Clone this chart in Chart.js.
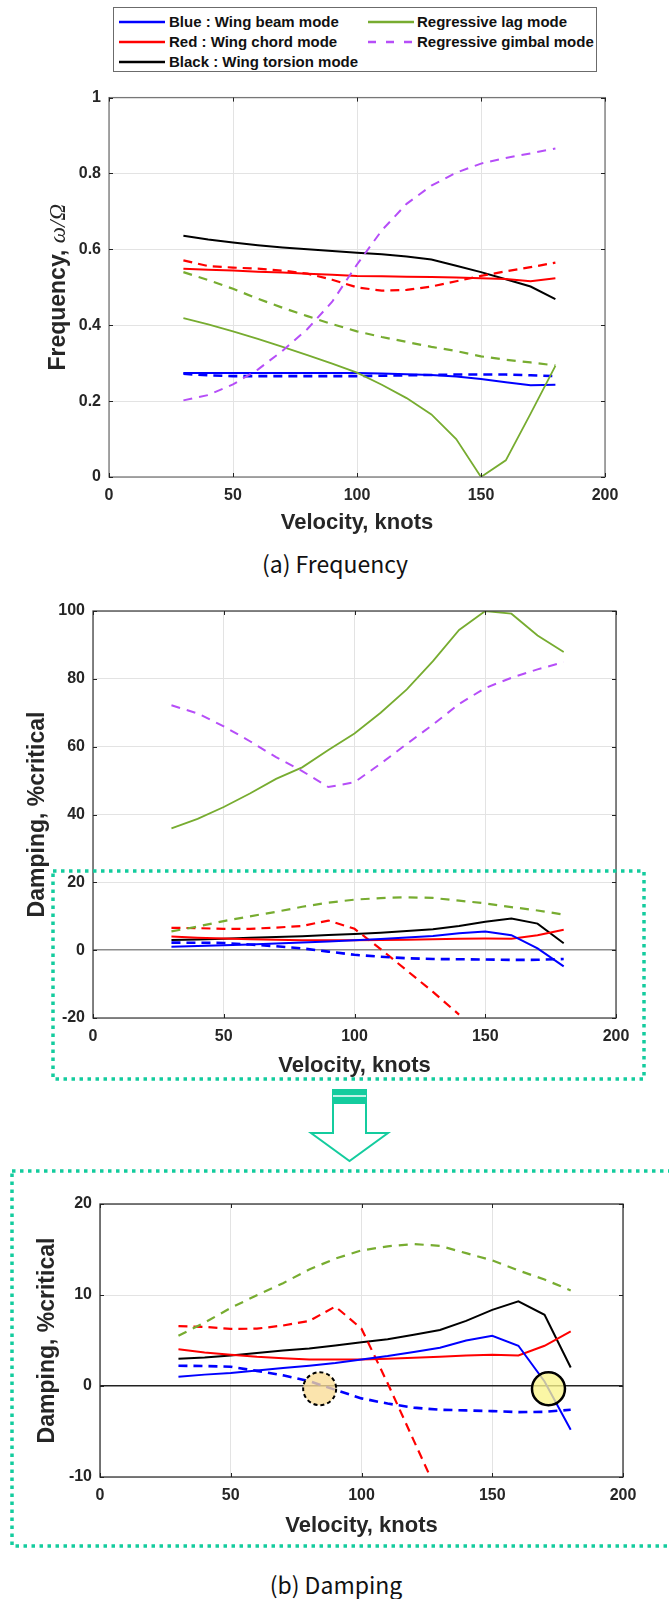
<!DOCTYPE html>
<html><head><meta charset="utf-8">
<script src="https://cdn.jsdelivr.net/npm/chart.js@4.4.0/dist/chart.umd.min.js"></script>
<style>
html,body{margin:0;padding:0;background:#fff;}
body{width:669px;height:1599px;position:relative;overflow:hidden;font-family:'Liberation Sans',Arial,sans-serif;}
canvas.c{position:absolute;left:0;}
#legend{position:absolute;left:113px;top:7px;width:484px;height:65px;border:1px solid #6b6b6b;box-sizing:border-box;}
.li{position:absolute;font:bold 15px 'Liberation Sans',Arial,sans-serif;color:#111;white-space:nowrap;line-height:18px;}
.cap{position:absolute;font:23px 'Noto Sans CJK KR','Noto Sans',sans-serif;color:#111;transform:translate(-50%,-50%);white-space:nowrap;}
svg.ov{position:absolute;left:0;top:0;pointer-events:none;}
</style></head><body>
<div id="legend"></div>
<canvas class="c" id="c1" width="669" height="465" style="top:80px"></canvas>
<div class="cap" style="left:335px;top:563px">(a) Frequency</div>
<canvas class="c" id="c2" width="669" height="495" style="top:590px"></canvas>
<canvas class="c" id="c3" width="669" height="380" style="top:1180px"></canvas>
<div class="cap" style="left:336px;top:1584px">(b) Damping</div>
<svg class="ov" width="669" height="1599">
  <rect x="53" y="871" width="591" height="208" fill="none" stroke="#14CC9E" stroke-width="3.5" stroke-dasharray="3.5 4.5"/>
  <rect x="12" y="1171" width="700" height="375" fill="none" stroke="#14CC9E" stroke-width="3.5" stroke-dasharray="3.5 4.5"/>
  <polygon points="333,1090 366,1090 366,1133 388,1133 349.5,1161 311,1133 333,1133" fill="#fff" stroke="#14CC9E" stroke-width="2"/>
  <rect x="333" y="1090" width="33" height="14" fill="#14CC9E"/>
  <line x1="333" x2="366" y1="1096" y2="1096" stroke="#fff" stroke-width="1.3"/>
</svg>
<script>
// ---------- data ----------
const velocity = [30,40,50,60,70,80,90,100,110,120,130,140,150,160,170,180];

const velTicks  = [0,50,100,150,200];
const freqTicks = [0,0.2,0.4,0.6,0.8,1];
const dampTicks = [-20,0,20,40,60,80,100];
const zoomTicks = [-10,0,10,20];

// Frequency, omega/Omega
const freqBeam       = [0.274,0.274,0.274,0.274,0.274,0.274,0.274,0.274,0.273,0.271,0.269,0.265,0.258,0.250,0.242,0.243];
const freqBeamB      = [0.272,0.268,0.266,0.266,0.266,0.266,0.266,0.266,0.267,0.268,0.269,0.270,0.270,0.270,0.268,0.266];
const freqChord      = [0.549,0.546,0.544,0.541,0.539,0.536,0.533,0.530,0.529,0.528,0.527,0.526,0.524,0.522,0.516,0.524];
const freqChordB     = [0.571,0.556,0.552,0.549,0.544,0.536,0.520,0.500,0.491,0.493,0.502,0.516,0.530,0.542,0.553,0.565];
const freqTorsion    = [0.636,0.626,0.618,0.611,0.605,0.600,0.596,0.591,0.587,0.581,0.573,0.557,0.540,0.521,0.502,0.469];
const freqLag        = [0.419,0.402,0.384,0.364,0.343,0.321,0.299,0.275,0.243,0.208,0.165,0.100,0.000,0.044,0.167,0.293];
const freqLagB       = [0.540,0.519,0.496,0.470,0.446,0.424,0.403,0.384,0.369,0.356,0.343,0.332,0.318,0.309,0.302,0.294];
const freqGimbal     = [0.202,0.216,0.244,0.283,0.333,0.390,0.462,0.560,0.650,0.720,0.768,0.802,0.826,0.841,0.853,0.866];

// Damping, %critical
const dampBeam       = [1.02,1.25,1.44,1.70,1.97,2.23,2.53,2.91,3.29,3.74,4.20,4.99,5.52,4.42,0.50,-4.80];
const dampBeamB      = [2.23,2.19,2.12,1.66,1.17,0.53,-0.42,-1.36,-1.93,-2.38,-2.61,-2.68,-2.76,-2.87,-2.84,-2.61];
const dampChord      = [4.05,3.67,3.44,3.21,3.06,2.91,2.91,2.91,2.99,3.10,3.21,3.36,3.44,3.36,4.42,6.01];
const dampChordB     = [6.58,6.50,6.28,6.30,6.65,7.15,8.73,6.30,0.30,-6.00,-12.30,-19.00,null,null,null,null];
const dampTorsion    = [2.99,3.14,3.36,3.63,3.90,4.12,4.46,4.80,5.14,5.63,6.16,7.15,8.36,9.30,7.83,2.04];
const dampLag        = [35.9,38.7,42.2,46.2,50.5,53.9,59.0,63.9,70.0,76.9,85.2,94.4,100.0,99.2,92.8,87.9];
const dampLagB       = [5.52,6.96,8.58,9.98,11.3,12.8,14.0,14.9,15.35,15.6,15.4,14.6,13.8,12.7,11.7,10.5];
const dampGimbal     = [72.2,69.8,66.0,61.6,56.9,52.8,48.1,49.5,55.0,60.8,66.5,72.6,77.3,80.3,82.8,84.9];

// highlighted crossings (panel b, zoom)
const markVel  = [84, 171.5];
const markDamp = [-0.3, -0.3];

const legendLabels = ['Blue : Wing beam mode','Red : Wing chord mode','Black : Wing torsion mode','Regressive lag mode','Regressive gimbal mode'];

// ---------- styles ----------
const BLUE='#0000FF', RED='#FF0000', BLACK='#000000', GREEN='#77AC30', PURPLE='#B64EF8';
const DASH=[9,6];
function pts(ys){ return velocity.map((v,i)=>({x:v,y:ys[i]})); }
function ds(ys,color,w,dash){ return {data:pts(ys),borderColor:color,borderWidth:w,borderDash:dash||[],pointRadius:0,tension:0,fill:false,spanGaps:false}; }

function setsFreq(){ return [
  ds(freqGimbal,PURPLE,2,[9,7]),
  ds(freqLagB,GREEN,2.2,[9,7]),
  ds(freqLag,GREEN,1.8),
  ds(freqBeamB,BLUE,2.6,DASH),
  ds(freqBeam,BLUE,2),
  ds(freqChordB,RED,2.2,DASH),
  ds(freqChord,RED,2),
  ds(freqTorsion,BLACK,2)
];}
function setsDamp(){ return [
  ds(dampGimbal,PURPLE,2,[9,7]),
  ds(dampLagB,GREEN,2.2,[9,7]),
  ds(dampLag,GREEN,1.8),
  ds(dampBeamB,BLUE,2.6,DASH),
  ds(dampBeam,BLUE,2),
  ds(dampChordB,RED,2.2,DASH),
  ds(dampChord,RED,2),
  ds(dampTorsion,BLACK,2)
];}

// legend (html)
(function(){
  const lg=document.getElementById('legend');
  const cols=[BLUE,RED,BLACK,GREEN,PURPLE];
  const dashes=[null,null,null,null,'8 10'];
  const pos=[[5,55,14],[5,55,34],[5,55,54],[254,303,14],[254,303,34]];
  legendLabels.forEach((t,i)=>{
    const p=pos[i];
    const s=document.createElementNS('http://www.w3.org/2000/svg','svg');
    s.setAttribute('width','46');s.setAttribute('height','6');
    s.style.position='absolute';s.style.left=p[0]+'px';s.style.top=(p[2]-3)+'px';
    const l=document.createElementNS('http://www.w3.org/2000/svg','line');
    l.setAttribute('x1','0');l.setAttribute('x2','46');l.setAttribute('y1','3');l.setAttribute('y2','3');
    l.setAttribute('stroke',cols[i]);l.setAttribute('stroke-width','2.4');
    if(dashes[i]) l.setAttribute('stroke-dasharray',dashes[i]);
    s.appendChild(l);lg.appendChild(s);
    const d=document.createElement('div');d.className='li';d.textContent=t;
    d.style.left=p[1]+'px';d.style.top=(p[2]-9)+'px';lg.appendChild(d);
  });
})();

// ---------- plugins ----------
const boxPlugin={id:'box',afterDraw(chart,args,o){
  const {ctx,chartArea:a,scales:{x,y}}=chart;
  ctx.save();
  ctx.strokeStyle=o.color||'#555';ctx.lineWidth=1.3;
  ctx.strokeRect(a.left,a.top,a.right-a.left,a.bottom-a.top);
  ctx.strokeStyle='#222';ctx.lineWidth=1;
  const L=4;
  x.ticks.forEach(t=>{const px=Math.round(x.getPixelForValue(t.value))+0.5;
    ctx.beginPath();ctx.moveTo(px,a.bottom);ctx.lineTo(px,a.bottom-L);ctx.moveTo(px,a.top);ctx.lineTo(px,a.top+L);ctx.stroke();});
  y.ticks.forEach(t=>{const py=Math.round(y.getPixelForValue(t.value))+0.5;
    ctx.beginPath();ctx.moveTo(a.left,py);ctx.lineTo(a.left+L,py);ctx.moveTo(a.right,py);ctx.lineTo(a.right-L,py);ctx.stroke();});
  ctx.restore();
}};
// mixed-font y title for the frequency panel
const freqTitlePlugin={id:'ftitle',afterDraw(chart){
  const {ctx,chartArea:a}=chart;
  const p1='Frequency, ', p2='ω/Ω';
  const f1="bold 23px 'Liberation Sans', Arial, sans-serif";
  const f2="italic 23px 'Liberation Serif', 'Times New Roman', serif";
  ctx.save();
  ctx.font=f1; const w1=ctx.measureText(p1).width;
  ctx.font=f2; const w2=ctx.measureText(p2).width;
  ctx.translate(59,(a.top+a.bottom)/2); ctx.rotate(-Math.PI/2);
  ctx.textBaseline='middle'; ctx.textAlign='left'; ctx.fillStyle='#262626';
  const x0=-(w1+w2)/2;
  ctx.font=f1; ctx.fillText(p1,x0,0);
  ctx.font=f2; ctx.fillText(p2,x0+w1,0);
  ctx.restore();
}};
const markPlugin={id:'marks',afterDatasetsDraw(chart){
  const {ctx,scales:{x,y}}=chart;
  ctx.save();
  markVel.forEach((v,i)=>{
    const px=x.getPixelForValue(v), py=y.getPixelForValue(markDamp[i]);
    ctx.beginPath();ctx.ellipse(px,py,16.5,16.5,0,0,Math.PI*2);
    if(i===0){ctx.fillStyle='rgba(250,220,150,0.78)';ctx.setLineDash([4,3]);ctx.lineWidth=2;}
    else {ctx.fillStyle='rgba(250,245,140,0.78)';ctx.setLineDash([]);ctx.lineWidth=2.5;}
    ctx.fill();ctx.strokeStyle='#000';ctx.stroke();
  });
  ctx.restore();
}};

const TICKFONT={family:"'Liberation Sans', Arial, sans-serif",size:16,weight:'bold'};
const XTFONT={family:"'Liberation Sans', Arial, sans-serif",size:22,weight:'bold'};
const YTFONT={family:"'Liberation Sans', Arial, sans-serif",size:23,weight:'bold'};

function makeChart(id,datasets,yTicks,ymin,ymax,ytitle,geo,zeroColor,extraPlugins,boxColor){
  return new Chart(document.getElementById(id),{
    type:'line',
    data:{datasets},
    options:{
      responsive:false,animation:false,devicePixelRatio:1,
      layout:{padding:geo.pad},
      plugins:{legend:{display:false},tooltip:{enabled:false},box:{color:boxColor}},
      scales:{
        x:{type:'linear',min:0,max:200,
          afterBuildTicks:s=>{s.ticks=velTicks.map(v=>({value:v}));},
          afterFit:s=>{s.height=geo.xh;},
          grid:{color:'#e3e3e3',drawTicks:false},border:{display:false},
          ticks:{font:TICKFONT,color:'#262626',padding:9,maxRotation:0,callback:v=>String(v)},
          title:{display:true,text:'Velocity, knots',font:XTFONT,color:'#262626',padding:0}},
        y:{type:'linear',min:ymin,max:ymax,
          afterBuildTicks:s=>{s.ticks=yTicks.map(v=>({value:v}));},
          afterFit:s=>{s.width=geo.yw;},
          grid:{color:c=>(c.tick&&c.tick.value===0&&zeroColor)?zeroColor:'#e3e3e3',lineWidth:c=>(c.tick&&c.tick.value===0&&zeroColor)?1.4:1,drawTicks:false},border:{display:false},
          ticks:{font:TICKFONT,color:'#262626',padding:8,callback:v=>String(+Number(v).toFixed(3))},
          title:{display:!!ytitle,text:ytitle||'',font:YTFONT,color:'#262626',padding:0}}
      }
    },
    plugins:[boxPlugin].concat(extraPlugins||[])
  });
}

makeChart('c1',setsFreq(),freqTicks,0,1,null,
  {pad:{left:47,right:64,top:13,bottom:8.8},yw:62,xh:59.2},null,[freqTitlePlugin], '#777');
makeChart('c2',setsDamp(),dampTicks,-20,100,'Damping, %critical',
  {pad:{left:23.7,right:53,top:21,bottom:5.8},yw:69.3,xh:61.2},'#8a8a8a',[], '#444');
makeChart('c3',setsDamp(),zoomTicks,-10,20,'Damping, %critical',
  {pad:{left:33.8,right:46,top:24,bottom:20.8},yw:66.2,xh:62.2},'#222',[markPlugin], '#333');
</script>
</body></html>
